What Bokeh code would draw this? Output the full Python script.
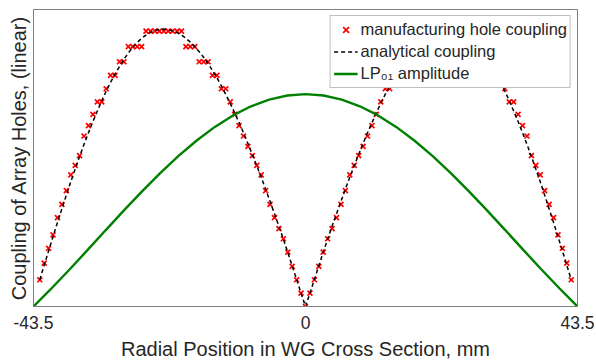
from bokeh.plotting import figure
from bokeh.models import Range1d, FixedTicker, Legend, LegendItem
from bokeh.embed import file_html
from bokeh.resources import INLINE

# Array hole positions across the waveguide (mm)
hole_pos_mm = [
    -42.50, -41.79, -41.08, -40.38, -39.67, -38.96, -38.25, -37.54, -36.83, -36.13,
    -35.42, -34.71, -34.00, -33.29, -32.58, -31.88, -31.17, -30.46, -29.75, -29.04,
    -28.33, -27.63, -26.92, -26.21, -25.50, -24.79, -24.08, -23.38, -22.67, -21.96,
    -21.25, -20.54, -19.83, -19.13, -18.42, -17.71, -17.00, -16.29, -15.58, -14.88,
    -14.17, -13.46, -12.75, -12.04, -11.33, -10.63, -9.92, -9.21, -8.50, -7.79,
    -7.08, -6.38, -5.67, -4.96, -4.25, -3.54, -2.83, -2.13, -1.42, -0.71,
    0.00,
    0.71, 1.42, 2.13, 2.83, 3.54, 4.25, 4.96, 5.67, 6.38, 7.08,
    7.79, 8.50, 9.21, 9.92, 10.63, 11.33, 12.04, 12.75, 13.46, 14.17,
    14.88, 15.58, 16.29, 17.00, 17.71, 18.42, 19.13, 19.83, 20.54, 21.25,
    21.96, 22.67, 23.38, 24.08, 24.79, 25.50, 26.21, 26.92, 27.63, 28.33,
    29.04, 29.75, 30.46, 31.17, 31.88, 32.58, 33.29, 34.00, 34.71, 35.42,
    36.13, 36.83, 37.54, 38.25, 38.96, 39.67, 40.38, 41.08, 41.79, 42.50,
]

# Coupling realised by the manufactured holes (discrete hole sizes)
hole_coupling = [
    0.090, 0.146, 0.196, 0.241, 0.299, 0.344, 0.390, 0.443, 0.475, 0.508,
    0.574, 0.609, 0.647, 0.689, 0.689, 0.733, 0.778, 0.778, 0.824, 0.824,
    0.875, 0.875, 0.875, 0.875, 0.927, 0.927, 0.927, 0.927, 0.927, 0.927,
    0.927, 0.927, 0.927, 0.875, 0.875, 0.875, 0.824, 0.824, 0.824, 0.778,
    0.778, 0.733, 0.733, 0.689, 0.647, 0.609, 0.574, 0.539, 0.508, 0.475,
    0.443, 0.390, 0.344, 0.299, 0.262, 0.228, 0.183, 0.135, 0.090, 0.045,
    0.000,
    0.045, 0.090, 0.135, 0.183, 0.228, 0.262, 0.299, 0.344, 0.390, 0.443,
    0.475, 0.508, 0.539, 0.574, 0.609, 0.647, 0.689, 0.733, 0.733, 0.778,
    0.778, 0.824, 0.824, 0.824, 0.875, 0.875, 0.875, 0.927, 0.927, 0.927,
    0.927, 0.927, 0.927, 0.927, 0.927, 0.927, 0.875, 0.875, 0.875, 0.875,
    0.824, 0.824, 0.778, 0.778, 0.733, 0.689, 0.689, 0.647, 0.609, 0.574,
    0.508, 0.475, 0.443, 0.390, 0.344, 0.299, 0.241, 0.196, 0.146, 0.090,
]

# Ideal (analytical) coupling at the same positions
analytic_coupling = [
    0.090, 0.139, 0.188, 0.235, 0.283, 0.329, 0.375, 0.420, 0.463, 0.505,
    0.546, 0.585, 0.623, 0.658, 0.693, 0.725, 0.755, 0.783, 0.808, 0.832,
    0.854, 0.872, 0.889, 0.903, 0.914, 0.923, 0.930, 0.933, 0.934, 0.932,
    0.928, 0.922, 0.914, 0.903, 0.890, 0.875, 0.858, 0.839, 0.818, 0.795,
    0.770, 0.743, 0.714, 0.684, 0.652, 0.619, 0.585, 0.549, 0.512, 0.474,
    0.435, 0.395, 0.354, 0.312, 0.270, 0.227, 0.182, 0.137, 0.091, 0.045,
    0.000,
    0.045, 0.091, 0.137, 0.182, 0.227, 0.270, 0.312, 0.354, 0.395, 0.435,
    0.474, 0.512, 0.549, 0.585, 0.619, 0.652, 0.684, 0.714, 0.743, 0.770,
    0.795, 0.818, 0.839, 0.858, 0.875, 0.890, 0.903, 0.914, 0.922, 0.928,
    0.932, 0.934, 0.933, 0.930, 0.923, 0.914, 0.903, 0.889, 0.872, 0.854,
    0.832, 0.808, 0.783, 0.755, 0.725, 0.693, 0.658, 0.623, 0.585, 0.546,
    0.505, 0.463, 0.420, 0.375, 0.329, 0.283, 0.235, 0.188, 0.139, 0.090,
]

# Fundamental LP01 mode field amplitude across the guide
lp01_pos_mm = [
    -43.5, -40.6, -37.7, -34.8, -31.9, -29.0, -26.1, -23.2, -20.3, -17.4,
    -14.5, -11.6, -8.7, -5.8, -2.9, 0.0, 2.9, 5.8, 8.7, 11.6,
    14.5, 17.4, 20.3, 23.2, 26.1, 29.0, 31.9, 34.8, 37.7, 40.6, 43.5,
]
lp01_amplitude = [
    0.000, 0.0614, 0.1255, 0.1913, 0.2582, 0.3243, 0.3885, 0.4498, 0.5070, 0.5589,
    0.6047, 0.6433, 0.6742, 0.6967, 0.7104, 0.7150, 0.7104, 0.6967, 0.6742, 0.6433,
    0.6047, 0.5589, 0.5070, 0.4498, 0.3885, 0.3243, 0.2582, 0.1913, 0.1255, 0.0614, 0.000,
]

x_ticks = [-43.5, 0, 43.5]
x_tick_labels = {-43.5: "-43.5", 0: "0", 43.5: "43.5"}

FONT = "Liberation Sans"
TEXT = "#262626"
FRAME = "#7f7f7f"

p = figure(
    width=596, height=362,
    output_backend="svg", toolbar_location=None,
    x_range=Range1d(-43.5, 43.5), y_range=Range1d(0, 1),
    min_border_left=33, min_border_right=19,
    min_border_top=9, min_border_bottom=56,
)
p.background_fill_color = "white"
p.border_fill_color = "white"
p.outline_line_color = FRAME
p.outline_line_width = 1
p.grid.visible = False

# x axis
xa = p.xaxis[0]
xa.ticker = FixedTicker(ticks=x_ticks)
xa.major_label_overrides = x_tick_labels
xa.major_tick_in = 5
xa.major_tick_out = 0
xa.minor_tick_line_color = None
xa.axis_line_color = FRAME
xa.major_tick_line_color = FRAME
xa.major_label_text_font = FONT
xa.major_label_text_font_size = "17.5px"
xa.major_label_text_color = TEXT
xa.major_label_standoff = 9
xa.axis_label = "Radial Position in WG Cross Section, mm"
xa.axis_label_text_font = FONT
xa.axis_label_text_font_size = "20px"
xa.axis_label_text_font_style = "normal"
xa.axis_label_text_color = TEXT
xa.axis_label_standoff = 6

# y axis: label only
ya = p.yaxis[0]
ya.ticker = FixedTicker(ticks=[])
ya.minor_tick_line_color = None
ya.major_tick_line_color = None
ya.axis_line_color = FRAME
ya.major_label_standoff = 0
ya.axis_label = "Coupling of Array Holes, (linear)"
ya.axis_label_text_font = FONT
ya.axis_label_text_font_size = "20px"
ya.axis_label_text_font_style = "normal"
ya.axis_label_text_color = TEXT
ya.axis_label_standoff = 4

r_holes = p.scatter(hole_pos_mm, hole_coupling, marker="x", size=7,
                    line_color="#ff0000", line_width=1.7)
r_analytic = p.line(hole_pos_mm, analytic_coupling, line_color="black",
                    line_dash="4 3", line_width=1.5)
r_lp01 = p.line(lp01_pos_mm, lp01_amplitude, line_color="#008000", line_width=2.4)

legend = Legend(
    items=[
        LegendItem(label="manufacturing hole coupling", renderers=[r_holes]),
        LegendItem(label="analytical coupling", renderers=[r_analytic]),
        LegendItem(label="LP\u2080\u2081 amplitude", renderers=[r_lp01]),
    ],
    location="top_right",
    margin=6, padding=3, spacing=1,
    glyph_width=24, glyph_height=21, label_height=21, label_standoff=3,
    label_text_font=FONT, label_text_font_size="16.5px", label_text_color=TEXT,
    border_line_color=FRAME, border_line_width=1,
    background_fill_color="white", background_fill_alpha=1.0,
)
p.add_layout(legend)

open("out.html", "w").write(file_html(p, INLINE))
